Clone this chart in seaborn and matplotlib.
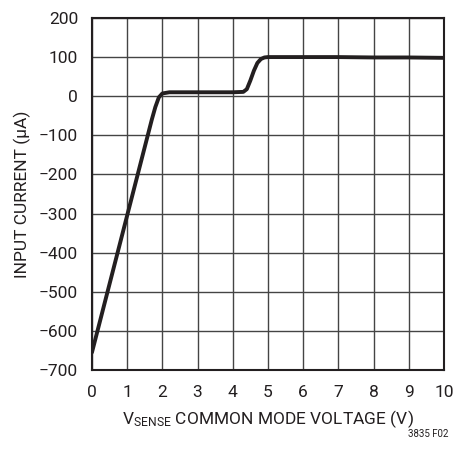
import matplotlib
matplotlib.use("Agg")
import matplotlib.pyplot as plt
import seaborn as sns
import pandas as pd

# Input current vs. common-mode voltage on the sense pins
vsense = [0, 0.5, 1.0, 1.5, 1.7, 1.8, 1.9, 2.0, 2.2, 3.0, 4.0, 4.3, 4.4, 4.5,
          4.6, 4.7, 4.8, 4.9, 5.0, 6, 7, 8, 9, 10]
current_ua = [-655, -480, -305, -130, -60, -28, -3, 7, 10, 10, 10, 11, 18, 40,
              65, 85, 95, 99, 100, 100, 100, 99, 99, 98]

x_ticks = list(range(0, 11))
y_ticks = list(range(-700, 201, 100))

sns.set_theme(style="white")
plt.rcParams["font.family"] = ["Roboto", "DejaVu Sans"]
plt.rcParams["mathtext.fontset"] = "custom"
plt.rcParams["mathtext.rm"] = "Roboto"
plt.rcParams["axes.unicode_minus"] = True

df = pd.DataFrame({"v": vsense, "i": current_ua})

fig = plt.figure(figsize=(4.53, 4.49), dpi=100)
ax = fig.add_axes([0.203, 0.176, 0.777, 0.784])

sns.lineplot(data=df, x="v", y="i", ax=ax, color="#231f20", linewidth=2.8,
             zorder=3)

ax.set_xlim(0, 10)
ax.set_ylim(-700, 200)
ax.set_xticks(x_ticks)
ax.set_yticks(y_ticks)
ax.set_yticklabels([str(t).replace("-", "\u2212") for t in y_ticks])
ax.grid(True, color="#444444", linewidth=1.0)
ax.tick_params(axis="x", length=0, labelsize=12.5, colors="#231f20", pad=11)
ax.tick_params(axis="y", length=0, labelsize=12.5, colors="#231f20", pad=10)
for s in ax.spines.values():
    s.set_color("#231f20")
    s.set_linewidth(1.5)

ax.set_xlabel(r"$\mathrm{V_{SENSE}}$ COMMON MODE VOLTAGE (V)", fontsize=12.5,
              color="#231f20", labelpad=6)
ax.set_ylabel("INPUT CURRENT (\u03bcA)", fontsize=12.5, color="#231f20",
              labelpad=6)

fig.text(0.99, 0.022, "3835 F02", ha="right", va="bottom", fontsize=7,
         color="#231f20")

fig.savefig("out.png", dpi=100)
